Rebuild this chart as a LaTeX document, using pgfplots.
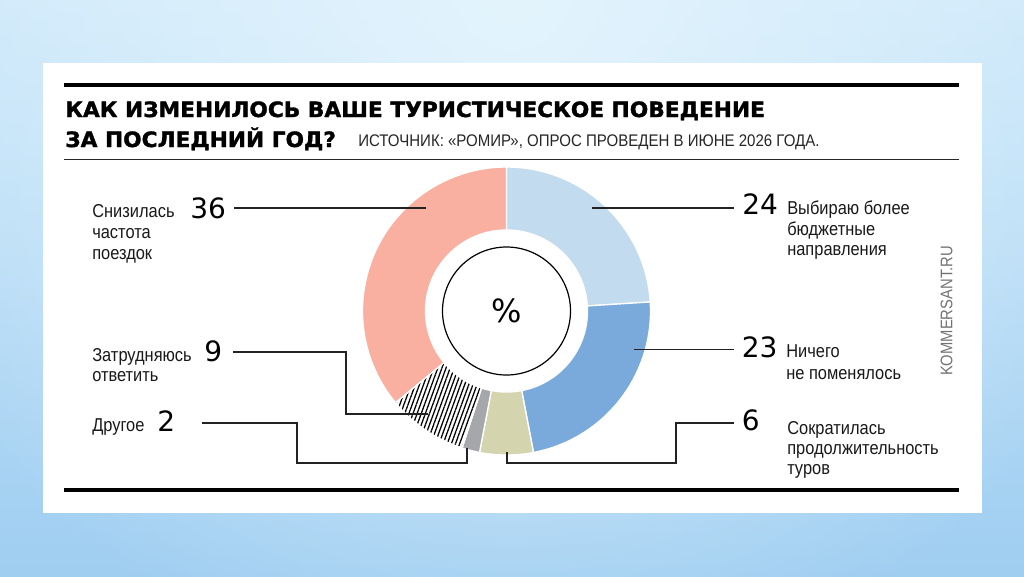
\documentclass[border=0pt]{standalone}
\usepackage{pgfplots}
\pgfplotsset{compat=1.18}
\usepackage{pgfplotstable}
\usepackage{fontspec}
\usetikzlibrary{patterns.meta,fadings}
\tikzfading[name=myfade, inner color=transparent!0, outer color=transparent!100]
\setmainfont{Liberation Sans}
\newfontfamily\lbl{Liberation Sans}[FakeStretch=0.88]
\newfontfamily\srcf{Liberation Sans}[FakeStretch=0.895]
\newfontfamily\numf{DejaVu Sans}
\newfontfamily\titlef{DejaVu Sans}[FakeStretch=1.03, FakeBold=1.6]

\definecolor{cLB}{HTML}{C3DBEE}
\definecolor{cMB}{HTML}{79AADB}
\definecolor{cOL}{HTML}{D4D4AE}
\definecolor{cGR}{HTML}{A6A7AB}
\definecolor{cSA}{HTML}{F9B0A0}
\definecolor{bgA}{HTML}{E3F4FD}
\definecolor{bgT}{HTML}{CDE8FA}
\definecolor{bgB}{HTML}{9FCEF1}
\definecolor{lead}{HTML}{222222}

\pgfplotstableread{
key     value color
Budget  24    cLB
Nothing 23    cMB
Shorter 6     cOL
Other   2     cGR
Hard    9     white
Fewer   36    cSA
}\piedata

\def\cx{506.5}
\def\cy{311}
\def\ro{144}
\def\ri{81}

\gdef\cumsum{0}
\pgfplotsforeachungrouped \i in {0,...,5}{%
  \pgfplotstablegetelem{\i}{value}\of\piedata
  \let\v\pgfplotsretval
  \pgfmathsetmacro\astart{90-3.6*\cumsum}%
  \pgfmathsetmacro\newcum{\cumsum+\v}%
  \xdef\cumsum{\newcum}%
  \pgfmathsetmacro\aend{90-3.6*\cumsum}%
  \expandafter\xdef\csname as\i\endcsname{\astart}%
  \expandafter\xdef\csname ae\i\endcsname{\aend}%
  \pgfplotstablegetelem{\i}{color}\of\piedata
  \expandafter\xdef\csname col\i\endcsname{\pgfplotsretval}%
}

\begin{document}
\begin{tikzpicture}
\begin{axis}[at={(0,0)}, anchor=south west, scale only axis,
  width=768pt, height=432pt, xmin=0, xmax=1024, ymin=0, ymax=576,
  y dir=reverse, hide axis, clip=false, disabledatascaling]

% background
\shade[top color=bgT, bottom color=bgB] (axis cs:0,0) rectangle (axis cs:1024,576);
\begin{scope}
\clip (axis cs:0,0) rectangle (axis cs:1024,576);
\fill[bgA, path fading=myfade] (axis cs:512,0) circle[radius=520pt];
\end{scope}
% card
\fill[white] (axis cs:42.5,63) rectangle (axis cs:982,513);

% rules
\draw[black, line width=2.3pt] (axis cs:64,85) -- (axis cs:959,85);
\draw[black!85, line width=1pt] (axis cs:64,159.5) -- (axis cs:959,159.5);
\draw[black, line width=2.6pt] (axis cs:64,490) -- (axis cs:959,490);

% title
\node[anchor=base west, inner sep=0pt, font={\titlef\bfseries\fontsize{15.8}{18}\selectfont}] at (axis cs:65,117) {КАК ИЗМЕНИЛОСЬ ВАШЕ ТУРИСТИЧЕСКОЕ ПОВЕДЕНИЕ};
\node[anchor=base west, inner sep=0pt, font={\titlef\bfseries\fontsize{15.8}{18}\selectfont}] at (axis cs:65,147) {ЗА ПОСЛЕДНИЙ ГОД?};
\node[anchor=base west, inner sep=0pt, text=black!85, font={\srcf\fontsize{12.6}{15}\selectfont}] at (axis cs:358,146) {ИСТОЧНИК: «РОМИР», ОПРОС ПРОВЕДЕН В ИЮНЕ 2026 ГОДА.};

% donut
\pgfplotsinvokeforeach{0,...,5}{
\filldraw[fill=\csname col#1\endcsname, draw=white, line width=1pt, line join=round]
 (axis cs:{\cx+\ro*cos(\csname as#1\endcsname)},{\cy-\ro*sin(\csname as#1\endcsname)})
 arc[start angle=\csname as#1\endcsname, end angle=\csname ae#1\endcsname, radius=108pt]
 -- (axis cs:{\cx+\ri*cos(\csname ae#1\endcsname)},{\cy-\ri*sin(\csname ae#1\endcsname)})
 arc[start angle=\csname ae#1\endcsname, end angle=\csname as#1\endcsname, radius=60.75pt]
 -- cycle;
}
\pgfplotsinvokeforeach{4}{
\path[pattern={Lines[angle=70,distance=2.9pt,line width=0.95pt]}, pattern color=black]
 (axis cs:{\cx+\ro*cos(\csname as#1\endcsname)},{\cy-\ro*sin(\csname as#1\endcsname)})
 arc[start angle=\csname as#1\endcsname, end angle=\csname ae#1\endcsname, radius=108pt]
 -- (axis cs:{\cx+\ri*cos(\csname ae#1\endcsname)},{\cy-\ri*sin(\csname ae#1\endcsname)})
 arc[start angle=\csname ae#1\endcsname, end angle=\csname as#1\endcsname, radius=60.75pt]
 -- cycle;
\draw[white, line width=1pt, line join=round]
 (axis cs:{\cx+\ro*cos(\csname as#1\endcsname)},{\cy-\ro*sin(\csname as#1\endcsname)})
 arc[start angle=\csname as#1\endcsname, end angle=\csname ae#1\endcsname, radius=108pt]
 -- (axis cs:{\cx+\ri*cos(\csname ae#1\endcsname)},{\cy-\ri*sin(\csname ae#1\endcsname)})
 arc[start angle=\csname ae#1\endcsname, end angle=\csname as#1\endcsname, radius=60.75pt]
 -- cycle;
}
\draw[black, line width=0.9pt] (axis cs:\cx,\cy) circle[radius=48pt];
\node[font={\numf\fontsize{24}{28}\selectfont}] at (axis cs:\cx,\cy) {\%};

% leader lines
\draw[lead, line width=1pt] (axis cs:234,208) -- (axis cs:426,208);
\draw[lead, line width=1pt] (axis cs:592,208) -- (axis cs:734,208);
\draw[lead, line width=1pt] (axis cs:634,349.5) -- (axis cs:734,349.5);
\draw[lead, line width=1pt] (axis cs:507,452) -- (axis cs:507,463) -- (axis cs:676,463) -- (axis cs:676,423) -- (axis cs:734,423);
\draw[lead, line width=1pt] (axis cs:202,423) -- (axis cs:297,423) -- (axis cs:297,463) -- (axis cs:467,463) -- (axis cs:467,448);
\draw[lead, line width=1pt] (axis cs:233,352) -- (axis cs:346,352) -- (axis cs:346,414) -- (axis cs:428,414);

% numbers
\tikzset{num/.style={anchor=base west, inner sep=0pt, font={\numf\fontsize{21}{24}\selectfont}},
         lab/.style={anchor=base west, inner sep=0pt, text=black!90, font={\lbl\fontsize{14}{16}\selectfont}}}
\node[num] at (axis cs:190,218.3) {36};
\node[num] at (axis cs:204,361.7) {9};
\node[num] at (axis cs:157,431.7) {2};
\node[num] at (axis cs:742,214.3) {24};
\node[num] at (axis cs:741.5,357) {23};
\node[num] at (axis cs:741.5,430) {6};

% labels
\node[lab] at (axis cs:92,217) {Снизилась};
\node[lab] at (axis cs:92,238) {частота};
\node[lab] at (axis cs:92,259) {поездок};
\node[lab] at (axis cs:92,361.7) {Затрудняюсь};
\node[lab] at (axis cs:92,381.7) {ответить};
\node[lab] at (axis cs:92,431.7) {Другое};
\node[lab] at (axis cs:787,214.3) {Выбираю более};
\node[lab] at (axis cs:787,235) {бюджетные};
\node[lab] at (axis cs:787,255.5) {направления};
\node[lab] at (axis cs:786,357) {Ничего};
\node[lab] at (axis cs:786,379) {не поменялось};
\node[lab] at (axis cs:787,434) {Сократилась};
\node[lab] at (axis cs:787,454.5) {продолжительность};
\node[lab] at (axis cs:787,474.5) {туров};

% watermark
\node[rotate=90, inner sep=0pt, text=black!55, font={\lbl\fontsize{12.6}{15}\selectfont}] at (axis cs:946.5,311) {KOMMERSANT.RU};
\end{axis}
\end{tikzpicture}
\end{document}
